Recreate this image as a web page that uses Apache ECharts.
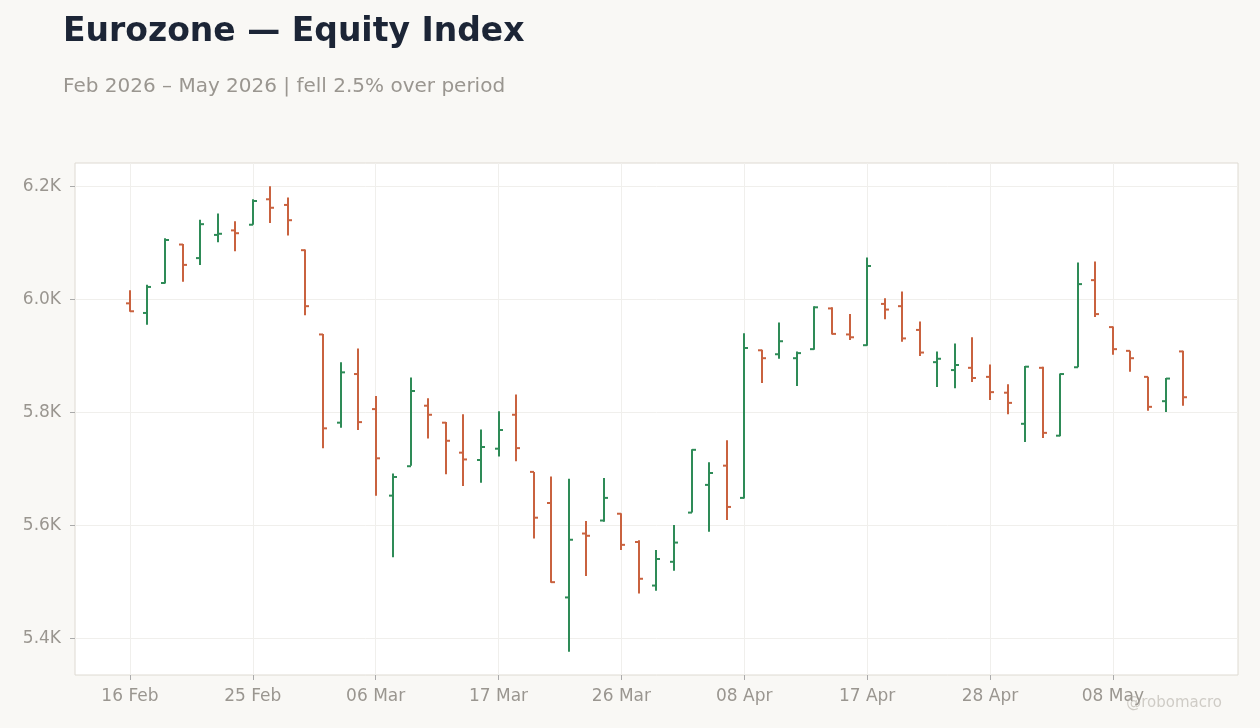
<!DOCTYPE html>
<html>
<head>
<meta charset="utf-8">
<title>Eurozone — Equity Index</title>
<script src="https://cdn.jsdelivr.net/npm/echarts@6/dist/echarts.min.js"></script>
<style>
  html, body { margin: 0; padding: 0; background: #f9f8f5; }
  #main { width: 1260px; height: 728px; }
</style>
</head>
<body>
<div id="main"></div>
<script>
// trading days (Good Friday, Easter Monday, 1 May closed)
var dates = [
  '16 Feb','17 Feb','18 Feb','19 Feb','20 Feb','23 Feb','24 Feb','25 Feb','26 Feb','27 Feb',
  '02 Mar','03 Mar','04 Mar','05 Mar','06 Mar','09 Mar','10 Mar','11 Mar','12 Mar','13 Mar',
  '16 Mar','17 Mar','18 Mar','19 Mar','20 Mar','23 Mar','24 Mar','25 Mar','26 Mar','27 Mar',
  '30 Mar','31 Mar','01 Apr','02 Apr','07 Apr','08 Apr','09 Apr','10 Apr','13 Apr','14 Apr',
  '15 Apr','16 Apr','17 Apr','20 Apr','21 Apr','22 Apr','23 Apr','24 Apr','27 Apr','28 Apr',
  '29 Apr','30 Apr','04 May','05 May','06 May','07 May','08 May','11 May','12 May','13 May',
  '14 May'
];
var opens = [
  5993, 5976, 6029, 6097, 6073, 6114, 6122, 6132, 6177, 6167,
  6087, 5938, 5782, 5868, 5806, 5653, 5705, 5812, 5782, 5729,
  5716, 5736, 5796, 5695, 5640, 5473, 5586, 5609, 5621, 5571,
  5494, 5536, 5623, 5672, 5706, 5649, 5910, 5903, 5896, 5912,
  5984, 5938, 5919, 5992, 5988, 5946, 5889, 5875, 5879, 5863,
  5835, 5780, 5879, 5759, 5880, 6034, 5951, 5909, 5863, 5820,
  5908
];
var highs = [
  6016, 6026, 6108, 6098, 6141, 6152, 6138, 6177, 6200, 6180,
  6088, 5939, 5889, 5913, 5829, 5692, 5862, 5825, 5783, 5797,
  5770, 5802, 5832, 5695, 5687, 5683, 5608, 5684, 5622, 5574,
  5557, 5601, 5735, 5712, 5751, 5940, 5911, 5959, 5908, 5988,
  5986, 5974, 6074, 6002, 6014, 5961, 5908, 5922, 5933, 5885,
  5850, 5882, 5881, 5869, 6065, 6067, 5952, 5909, 5863, 5861,
  5909
];
var lows = [
  5978, 5955, 6028, 6031, 6061, 6101, 6085, 6132, 6135, 6113,
  5972, 5737, 5773, 5769, 5653, 5544, 5706, 5754, 5691, 5670,
  5676, 5722, 5714, 5577, 5499, 5377, 5511, 5607, 5557, 5480,
  5485, 5520, 5623, 5589, 5610, 5648, 5852, 5895, 5847, 5911,
  5938, 5928, 5918, 5965, 5925, 5900, 5845, 5843, 5854, 5822,
  5797, 5748, 5755, 5758, 5880, 5969, 5902, 5872, 5803, 5801,
  5812
];
var closes = [
  5979, 6022, 6105, 6061, 6133, 6116, 6117, 6174, 6162, 6140,
  5988, 5772, 5871, 5783, 5719, 5686, 5838, 5796, 5750, 5717,
  5739, 5769, 5737, 5614, 5500, 5575, 5582, 5649, 5566, 5506,
  5541, 5570, 5734, 5693, 5633, 5914, 5896, 5926, 5905, 5986,
  5939, 5933, 6059, 5982, 5931, 5906, 5895, 5884, 5861, 5836,
  5817, 5881, 5764, 5868, 6027, 5974, 5912, 5896, 5810, 5860,
  5827
];
var xTicks = [0, 7, 14, 21, 28, 35, 42, 49, 56];
var yTicks = [5400, 5600, 5800, 6000, 6200];

var UP = '#2e8b57';
var DOWN = '#c9623f';

var chart = echarts.init(document.getElementById('main'));

var rows = dates.map(function (d, i) {
  return [i, opens[i], highs[i], lows[i], closes[i]];
});

var lo = Math.min.apply(null, lows), hi = Math.max.apply(null, highs);
var pad = (hi - lo) * 0.05;
var xPad = 3.13;

function renderItem(params, api) {
  var i = api.value(0);
  var o = api.coord([i, api.value(1)]);
  var h = api.coord([i, api.value(2)]);
  var l = api.coord([i, api.value(3)]);
  var c = api.coord([i, api.value(4)]);
  var x = Math.round(o[0]);
  var color = api.value(4) >= api.value(1) ? UP : DOWN;
  var st = { stroke: color, lineWidth: 2 };
  return {
    type: 'group',
    children: [
      { type: 'line', shape: { x1: x, y1: h[1], x2: x, y2: l[1] }, style: st },
      { type: 'line', shape: { x1: x - 4, y1: o[1], x2: x, y2: o[1] }, style: st },
      { type: 'line', shape: { x1: x, y1: c[1], x2: x + 4, y2: c[1] }, style: st }
    ]
  };
}

var option = {
  backgroundColor: '#f9f8f5',
  textStyle: { fontFamily: 'DejaVu Sans' },
  title: [{
    text: 'Eurozone — Equity Index',
    left: 58, top: 11,
    textStyle: { fontSize: 33, fontWeight: 'bold', color: '#1c2536', fontFamily: 'DejaVu Sans' }
  }, {
    text: 'Feb 2026 – May 2026 | fell 2.5% over period',
    left: 58, top: 72,
    textStyle: { fontSize: 20, fontWeight: 'normal', color: '#9a9690', fontFamily: 'DejaVu Sans' }
  }],
  graphic: [{
    type: 'text', right: 38, top: 696,
    style: { text: '@robomacro', fill: '#cfccc6', fontSize: 15, fontFamily: 'DejaVu Sans' }
  }],
  grid: {
    left: 75, right: 22, top: 163, bottom: 53,
    show: true, backgroundColor: '#ffffff', borderColor: '#dedad2', borderWidth: 1
  },
  xAxis: {
    type: 'value',
    min: -xPad, max: dates.length - 1 + xPad,
    axisLine: { show: false, onZero: false },
    axisTick: { show: true, customValues: xTicks, length: 5, lineStyle: { color: '#aaa' } },
    axisLabel: {
      customValues: xTicks, margin: 13, color: '#9a9690', fontSize: 17,
      formatter: function (v) { return dates[Math.round(v)] || ''; }
    },
    splitLine: { show: true, lineStyle: { color: '#f0efec' } }
  },
  yAxis: {
    type: 'value',
    min: lo - pad, max: hi + pad,
    axisLine: { show: false, onZero: false },
    axisTick: { show: true, customValues: yTicks, length: 5, lineStyle: { color: '#aaa' } },
    axisLabel: {
      customValues: yTicks, margin: 14, color: '#9a9690', fontSize: 17,
      formatter: function (v) { return (v / 1000).toFixed(1) + 'K'; }
    },
    splitLine: { show: true, lineStyle: { color: '#f0efec' } }
  },
  series: [{
    type: 'custom',
    renderItem: renderItem,
    encode: { x: 0, y: [1, 2, 3, 4] },
    data: rows,
    animation: false
  }]
};

chart.setOption(option);
</script>
</body>
</html>
